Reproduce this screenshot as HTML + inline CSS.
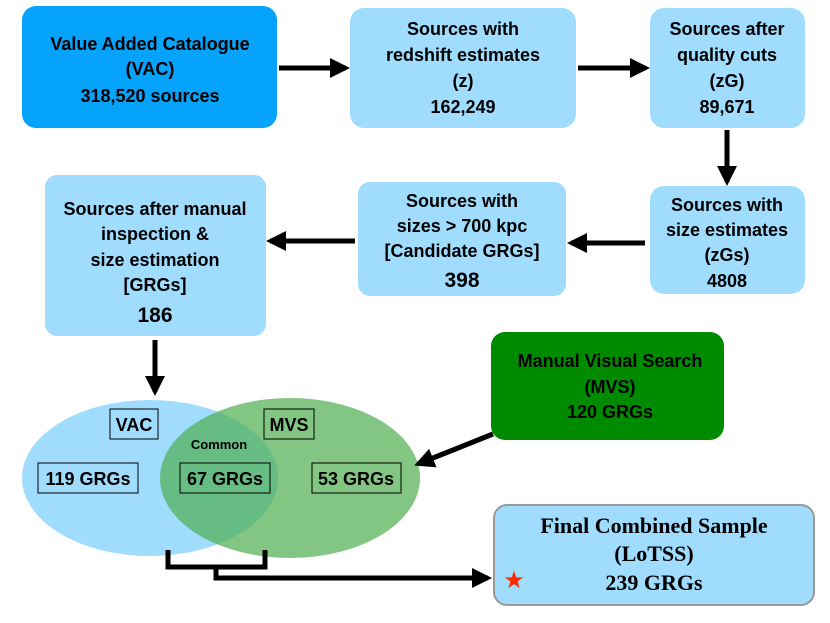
<!DOCTYPE html>
<html><head><meta charset="utf-8"><style>
html,body{margin:0;padding:0;background:#fff}
svg{display:block}
text{font-family:"Liberation Sans",sans-serif;font-weight:bold;text-anchor:middle;fill:#000}
.s{font-size:18px}
.f{font-family:"Liberation Serif",serif;font-size:22px}
</style></head><body>
<svg width="830" height="623" viewBox="0 0 830 623" xmlns="http://www.w3.org/2000/svg">
<defs>
<marker id="a" markerWidth="4" markerHeight="4" refX="3.2" refY="2" orient="auto" markerUnits="strokeWidth"><path d="M0,0 L4,2 L0,4 z" fill="#000"/></marker>
</defs>
<rect x="22" y="6" width="255" height="122" rx="14" fill="#05a3fb"/>
<rect x="350" y="8" width="226" height="120" rx="14" fill="#9fdcfd"/>
<rect x="650" y="8" width="155" height="120" rx="14" fill="#9fdcfd"/>
<rect x="650" y="186" width="155" height="108" rx="14" fill="#9fdcfd"/>
<rect x="358" y="182" width="208" height="114" rx="12" fill="#9fdcfd"/>
<rect x="45" y="175" width="221" height="161" rx="12" fill="#9fdcfd"/>
<rect x="491" y="332" width="233" height="108" rx="14" fill="#008a00"/>
<rect x="494" y="505" width="320" height="100" rx="13" fill="#9fdcfd" stroke="#999" stroke-width="2"/>
<text class="s" x="150" y="50">Value Added Catalogue</text>
<text class="s" x="150" y="75">(VAC)</text>
<text class="s" x="150" y="102">318,520 sources</text>
<text class="s" x="463" y="35">Sources with</text>
<text class="s" x="463" y="61">redshift estimates</text>
<text class="s" x="463" y="87">(z)</text>
<text class="s" x="463" y="113">162,249</text>
<text class="s" x="727" y="35">Sources after</text>
<text class="s" x="727" y="61">quality cuts</text>
<text class="s" x="727" y="87">(zG)</text>
<text class="s" x="727" y="113">89,671</text>
<text class="s" x="727" y="211">Sources with</text>
<text class="s" x="727" y="236">size estimates</text>
<text class="s" x="727" y="261">(zGs)</text>
<text class="s" x="727" y="287">4808</text>
<text class="s" x="462" y="207">Sources with</text>
<text class="s" x="462" y="232">sizes &gt; 700 kpc</text>
<text class="s" x="462" y="257">[Candidate GRGs]</text>
<text x="462" y="287" style="font-size:21px">398</text>
<text class="s" x="155" y="215">Sources after manual</text>
<text class="s" x="155" y="240">inspection &amp;</text>
<text class="s" x="155" y="266">size estimation</text>
<text class="s" x="155" y="291">[GRGs]</text>
<text x="155" y="322" style="font-size:21px">186</text>
<text class="s" x="610" y="367">Manual Visual Search</text>
<text class="s" x="610" y="393">(MVS)</text>
<text class="s" x="610" y="418">120 GRGs</text>
<text class="f" x="654" y="533">Final Combined Sample</text>
<text class="f" x="654" y="561">(LoTSS)</text>
<text class="f" x="654" y="590">239 GRGs</text>
<text x="514" y="588" style="font-size:24px;fill:#ff2a00;font-family:'DejaVu Sans',sans-serif">★</text>
<ellipse cx="150" cy="478" rx="128" ry="78" fill="#9fdcfd"/>
<ellipse cx="290" cy="478" rx="130" ry="80" fill="#4fae4f" fill-opacity="0.7"/>
<rect x="110" y="409" width="48" height="30" fill="none" stroke="#000" stroke-width="1"/>
<text class="s" x="134" y="431">VAC</text>
<rect x="264" y="409" width="50" height="30" fill="none" stroke="#000" stroke-width="1"/>
<text class="s" x="289" y="431">MVS</text>
<text x="219" y="449" style="font-size:13px">Common</text>
<rect x="38" y="463" width="100" height="30" fill="none" stroke="#000" stroke-width="1"/>
<text class="s" x="88" y="485">119 GRGs</text>
<rect x="180" y="463" width="90" height="30" fill="none" stroke="#000" stroke-width="1"/>
<text class="s" x="225" y="485">67 GRGs</text>
<rect x="312" y="463" width="89" height="30" fill="none" stroke="#000" stroke-width="1"/>
<text class="s" x="356" y="485">53 GRGs</text>
<g stroke="#000" stroke-width="5" fill="none">
<line x1="279" y1="68" x2="346" y2="68" marker-end="url(#a)"/>
<line x1="578" y1="68" x2="646" y2="68" marker-end="url(#a)"/>
<line x1="727" y1="130" x2="727" y2="182" marker-end="url(#a)"/>
<line x1="645" y1="243" x2="571" y2="243" marker-end="url(#a)"/>
<line x1="355" y1="241" x2="270" y2="241" marker-end="url(#a)"/>
<line x1="155" y1="340" x2="155" y2="392" marker-end="url(#a)"/>
<line x1="493" y1="434" x2="418" y2="464" marker-end="url(#a)"/>
<polyline points="168,550 168,567 265,567 265,550"/>
<polyline points="216,567 216,578 488,578" marker-end="url(#a)"/>
</g>
</svg>
</body></html>
